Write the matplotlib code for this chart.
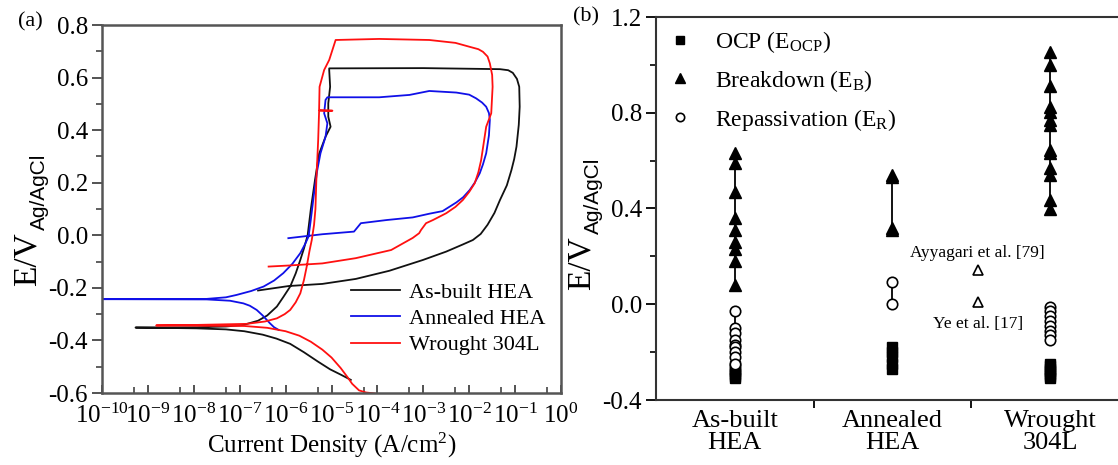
import numpy as np
import matplotlib
matplotlib.use('Agg')
import matplotlib.pyplot as plt
from matplotlib.ticker import FixedLocator, FuncFormatter, MultipleLocator
from matplotlib.lines import Line2D

plt.rcParams['font.family'] = 'Liberation Serif'
plt.rcParams['mathtext.fontset'] = 'custom'
plt.rcParams['mathtext.rm'] = 'Liberation Serif'
plt.rcParams['mathtext.it'] = 'Liberation Serif:italic'
plt.rcParams['mathtext.sf'] = 'Liberation Sans'

# ---- (a) cyclic polarization curves: log10(i [A/cm2]) and E [V vs Ag/AgCl] ----
asbuilt_logi = [-4.58, -4.80, -5.03, -5.30, -5.60, -5.90, -6.20, -6.50, -6.90, -7.30,
                -7.94, -9.27,
                -7.94, -7.30, -6.92, -6.60, -6.40, -6.19, -6.05, -5.90, -5.78, -5.68,
                -5.60, -5.52, -5.45, -5.36, -5.27, -5.13, -5.02, -5.07, -5.07, -5.03,
                -5.05, -5.05,
                -3.00, -1.33, -1.15, -1.05, -0.96, -0.91, -0.90, -0.92, -0.97, -1.02,
                -1.08, -1.18, -1.33, -1.45, -1.60, -1.75, -1.92, -2.14, -2.50, -3.01,
                -3.74, -4.47, -5.20, -5.93, -6.60]
asbuilt_e = [-0.550, -0.530, -0.510, -0.480, -0.445, -0.413, -0.393, -0.378, -0.365, -0.358,
             -0.354, -0.351,
             -0.350, -0.347, -0.341, -0.325, -0.305, -0.271, -0.235, -0.195, -0.145, -0.094,
             -0.050, 0.000, 0.100, 0.210, 0.310, 0.375, 0.413, 0.451, 0.502, 0.565,
             0.629, 0.635,
             0.636, 0.632, 0.628, 0.618, 0.595, 0.565, 0.489, 0.420, 0.337, 0.290,
             0.248, 0.190, 0.134, 0.085, 0.040, 0.005, -0.018, -0.035, -0.062, -0.094,
             -0.135, -0.166, -0.185, -0.193, -0.210]

annealed_logi = [-6.15, -6.25, -6.34, -6.50, -6.63, -6.78, -6.92, -7.21, -7.72, -10.3,
                 -7.72, -7.30, -7.07, -6.75, -6.48, -6.25, -6.05, -5.85, -5.68, -5.58,
                 -5.50, -5.45, -5.38, -5.31, -5.24, -5.13, -5.09, -5.16, -5.13, -5.09,
                 -3.96, -3.30, -2.87, -2.28, -2.00, -1.85, -1.72, -1.63, -1.57, -1.55,
                 -1.57, -1.63, -1.70, -1.77, -1.88, -1.99, -2.13, -2.28, -2.58, -2.87,
                 -3.23, -3.80, -4.36, -4.51, -5.20, -5.94]
annealed_e = [-0.360, -0.350, -0.335, -0.305, -0.284, -0.268, -0.259, -0.249, -0.244, -0.243,
              -0.242, -0.236, -0.227, -0.212, -0.195, -0.172, -0.144, -0.108, -0.068, -0.035,
              -0.005, 0.060, 0.160, 0.248, 0.312, 0.375, 0.426, 0.464, 0.515, 0.525,
              0.525, 0.534, 0.549, 0.543, 0.535, 0.521, 0.505, 0.489, 0.465, 0.439,
              0.380, 0.312, 0.270, 0.236, 0.200, 0.172, 0.145, 0.125, 0.092, 0.082,
              0.068, 0.058, 0.046, 0.014, 0.004, -0.011]

wrought_logi = [-3.90, -4.05, -4.25, -4.40, -4.55, -4.65, -4.80, -5.00, -5.20, -5.45,
                -5.70, -6.00, -6.40, -6.90, -7.94, -8.82,
                -7.94, -6.85, -6.45, -6.19, -6.02, -5.90, -5.78, -5.68, -5.60, -5.54,
                -5.48, -5.43, -5.38, -5.35, -5.33, -5.29, -5.27, -4.98, -5.27, -5.26,
                -5.16, -5.05, -4.91,
                -3.96, -2.87, -2.30, -1.99, -1.80, -1.70, -1.60, -1.55, -1.50, -1.49,
                -1.52, -1.63, -1.74, -1.80, -1.88, -2.00, -2.14, -2.30, -2.50, -2.79,
                -2.94, -3.05, -3.09, -3.23, -3.70, -4.47, -5.20, -5.93, -6.37]
wrought_e = [-0.620, -0.602, -0.598, -0.590, -0.565, -0.540, -0.505, -0.465, -0.435, -0.405,
             -0.382, -0.365, -0.352, -0.345, -0.344, -0.343,
             -0.341, -0.337, -0.328, -0.316, -0.300, -0.284, -0.255, -0.221, -0.170, -0.119,
             -0.060, -0.018, 0.040, 0.100, 0.210, 0.363, 0.474, 0.474, 0.476, 0.565,
             0.629, 0.667, 0.743,
             0.747, 0.743, 0.732, 0.717, 0.708, 0.698, 0.680, 0.654, 0.610, 0.565,
             0.464, 0.413, 0.286, 0.240, 0.198, 0.165, 0.134, 0.108, 0.084, 0.058,
             0.046, 0.020, 0.008, -0.010, -0.056, -0.087, -0.107, -0.115, -0.119]

curve_labels = ['As-built HEA', 'Annealed HEA', 'Wrought 304L']
curve_colors = ['#111111', '#1010e8', '#ff1010']

# ---- (b) characteristic potentials per material ----
materials = ['As-built\nHEA', 'Annealed\nHEA', 'Wrought\n304L']
e_ocp = [[-0.26, -0.27, -0.28, -0.29, -0.30, -0.31],
         [-0.18, -0.20, -0.22, -0.25, -0.27],
         [-0.25, -0.26, -0.27, -0.28, -0.29, -0.30, -0.31]]
e_breakdown = [[0.63, 0.59, 0.47, 0.36, 0.31, 0.26, 0.23, 0.18, 0.08],
               [0.54, 0.53, 0.32, 0.31],
               [1.055, 1.00, 0.91, 0.825, 0.805, 0.77, 0.75, 0.645, 0.63, 0.57, 0.54, 0.435, 0.40]]
e_repass = [[-0.03, -0.10, -0.12, -0.15, -0.17, -0.18, -0.20, -0.22, -0.25],
            [0.095, 0.003],
            [-0.01, -0.03, -0.05, -0.07, -0.09, -0.11, -0.13, -0.15]]
lit_names = ['Ayyagari et al. [79]', 'Ye et al. [17]']
lit_x = [1.54, 1.54]
lit_e = [0.143, 0.011]

W, H = 1118, 465
fig = plt.figure(figsize=(W / 100, H / 100), dpi=100)

def px_axes(l, t, r, b):
    return fig.add_axes([l / W, (H - b) / H, (r - l) / W, (b - t) / H])

# ================= panel (a) =================
ax1 = px_axes(102, 25, 561, 393)
for li, ee, lab, col in zip([asbuilt_logi, annealed_logi, wrought_logi],
                            [asbuilt_e, annealed_e, wrought_e], curve_labels, curve_colors):
    ax1.plot(10.0 ** np.array(li), ee, color=col, lw=1.3, label=lab,
             solid_joinstyle='round')
ax1.set_xscale('log')
ax1.set_xlim(1e-10, 1)
ax1.set_ylim(-0.6, 0.8)
ax1.xaxis.set_major_locator(FixedLocator(10.0 ** np.arange(-10, 1)))
ax1.xaxis.set_minor_locator(FixedLocator(5 * 10.0 ** np.arange(-10, 0)))
ax1.xaxis.set_major_formatter(FuncFormatter(lambda v, p: r'$\mathregular{10^{%d}}$' % round(np.log10(v))))
ax1.xaxis.set_minor_formatter(FuncFormatter(lambda v, p: ''))
ax1.yaxis.set_major_locator(MultipleLocator(0.2))
ax1.yaxis.set_minor_locator(MultipleLocator(0.1))
ax1.yaxis.set_major_formatter(FuncFormatter(lambda v, p: '%.1f' % v))
ax1.tick_params(axis='x', which='both', direction='in', labelsize=18, pad=8, color='#444444')
ax1.tick_params(axis='x', which='major', length=6, width=1.3)
ax1.tick_params(axis='x', which='minor', length=4, width=1.2)
ax1.tick_params(axis='y', which='both', direction='out', labelsize=18, pad=3, color='#444444')
ax1.tick_params(axis='y', which='major', length=7, width=1.3)
ax1.tick_params(axis='y', which='minor', length=4, width=1.2)
for s in ax1.spines.values():
    s.set_color('#555555')
    s.set_linewidth(1.8)
ax1.set_xlabel('Current Density (A/cm$^\\mathregular{2}$)', fontsize=18, labelpad=2)
ax1.legend(loc='lower right', bbox_to_anchor=(1.0, 0.06), frameon=False, fontsize=16,
           handlelength=2.2, handletextpad=0.4, labelspacing=0.25, borderaxespad=0.3)

# ================= panel (b) =================
ax2 = px_axes(656, 17, 1129, 400)
for i in range(len(materials)):
    for vals in (e_breakdown[i], e_repass[i], e_ocp[i]):
        ax2.plot([i, i], [min(vals), max(vals)], color='black', lw=1.3, zorder=1)
    ax2.plot([i] * len(e_ocp[i]), e_ocp[i], ls='none', marker='s', ms=7,
             mfc='black', mec='black', zorder=3)
    ax2.plot([i] * len(e_breakdown[i]), e_breakdown[i], ls='none', marker='^', ms=8,
             mfc='black', mec='black', zorder=3)
    ax2.plot([i] * len(e_repass[i]), e_repass[i], ls='none', marker='o', ms=7.5,
             mfc='white', mec='black', mew=1.2, zorder=3)
ax2.plot(lit_x, lit_e, ls='none', marker='^', ms=7, mfc='white', mec='black', mew=1.2)
ax2.text(lit_x[0], lit_e[0] + 0.07, lit_names[0], ha='center', va='center', fontsize=12.5)
ax2.text(lit_x[1], lit_e[1] - 0.095, lit_names[1], ha='center', va='center', fontsize=12.5)

ax2.set_xlim(-0.5, 2.5)
ax2.set_ylim(-0.4, 1.2)
ax2.set_xticks(range(len(materials)))
ax2.set_xticklabels(materials, linespacing=1.0)
ax2.xaxis.set_minor_locator(FixedLocator([0.5, 1.5]))
ax2.yaxis.set_major_locator(MultipleLocator(0.4))
ax2.yaxis.set_minor_locator(MultipleLocator(0.2))
ax2.yaxis.set_major_formatter(FuncFormatter(lambda v, p: '%.1f' % v))
ax2.tick_params(axis='x', which='major', length=0, labelsize=19, pad=7)
ax2.tick_params(axis='x', which='minor', direction='out', length=6, width=1.3)
ax2.tick_params(axis='y', which='both', direction='out', labelsize=18, pad=3)
ax2.tick_params(axis='y', which='major', length=7, width=1.3)
ax2.tick_params(axis='y', which='minor', length=4, width=1.2)
ax2.spines['right'].set_visible(False)
for s in ('left', 'bottom', 'top'):
    ax2.spines[s].set_color('#333333')
    ax2.spines[s].set_linewidth(1.5)

leg_handles = [Line2D([], [], ls='none', marker='s', ms=6, mfc='black', mec='black'),
               Line2D([], [], ls='none', marker='^', ms=7, mfc='black', mec='black'),
               Line2D([], [], ls='none', marker='o', ms=6, mfc='white', mec='black', mew=1.2)]
leg_labels = [r'OCP (E$_{\mathregular{OCP}}$)', r'Breakdown (E$_{\mathregular{B}}$)',
              r'Repassivation (E$_{\mathregular{R}}$)']
ax2.legend(leg_handles, leg_labels, loc='upper left', frameon=False, fontsize=17,
           handlelength=1.0, handletextpad=1.0, labelspacing=0.55, borderaxespad=0.3,
           borderpad=0.2)

# ---- rotated axis titles with small sans subscripts ----
fig.canvas.draw()
rend = fig.canvas.get_renderer()

def potential_label(x_px, y_px):
    t = fig.text(x_px / W, (H - y_px) / H, 'E/V', rotation=90, rotation_mode='anchor',
                 ha='left', va='baseline', fontsize=24)
    bb = t.get_window_extent(rend)
    fig.text((x_px + 9) / W, bb.y1 / H + 2 / H, 'Ag/AgCl', rotation=90, rotation_mode='anchor',
             ha='left', va='baseline', fontsize=15, family='Liberation Sans')

potential_label(36, 286)
potential_label(590, 290)

fig.text(18 / W, (H - 22) / H, '(a)', fontsize=16, va='center', ha='left')
fig.text(573 / W, (H - 17) / H, '(b)', fontsize=16, va='center', ha='left')

fig.savefig('out.png', dpi=100)
